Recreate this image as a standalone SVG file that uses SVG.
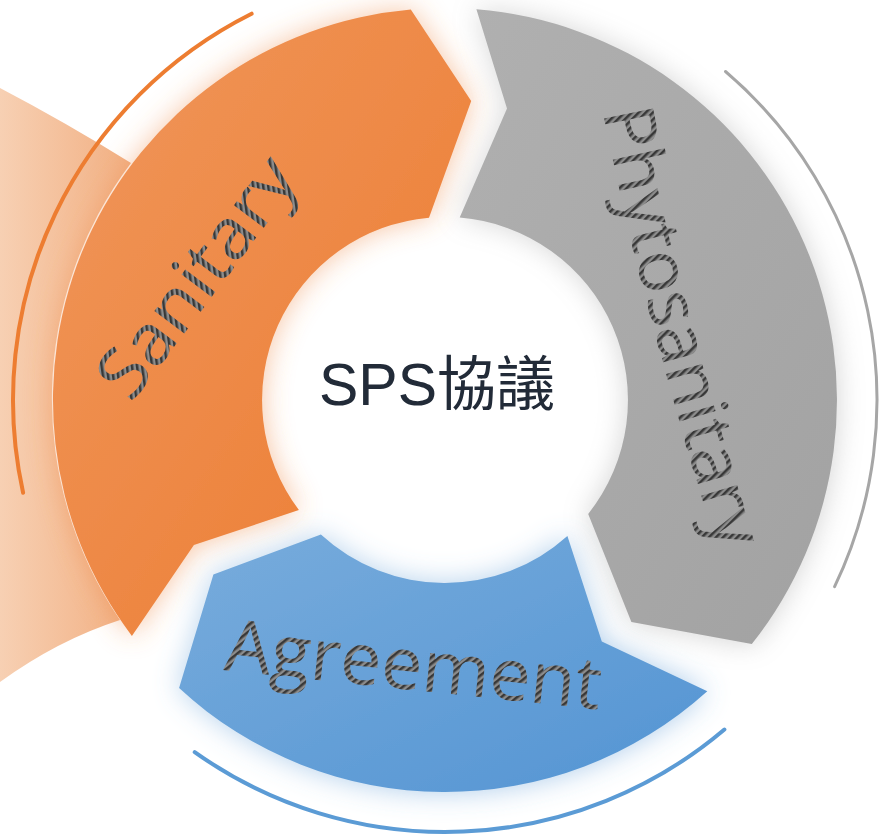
<svg xmlns="http://www.w3.org/2000/svg" width="884" height="836" viewBox="0 0 884 836">
  <defs>
    <linearGradient id="gPeach" x1="0" y1="0" x2="140" y2="0" gradientUnits="userSpaceOnUse">
      <stop offset="0" stop-color="#f7d0b3"/>
      <stop offset="1" stop-color="#f1ad7f"/>
    </linearGradient>
    <linearGradient id="gOrange" x1="0" y1="0" x2="1" y2="1">
      <stop offset="0" stop-color="#f0975c"/>
      <stop offset="1" stop-color="#ec7b30"/>
    </linearGradient>
    <linearGradient id="gGray" x1="0" y1="0" x2="1" y2="1">
      <stop offset="0" stop-color="#b0b0b0"/>
      <stop offset="1" stop-color="#a2a2a2"/>
    </linearGradient>
    <linearGradient id="gBlue" x1="0" y1="0" x2="1" y2="1">
      <stop offset="0" stop-color="#78acdc"/>
      <stop offset="1" stop-color="#5394d3"/>
    </linearGradient>
    <filter id="glow" x="-25%" y="-25%" width="150%" height="150%">
      <feGaussianBlur in="SourceGraphic" stdDeviation="14" result="b"/>
      <feComponentTransfer in="b" result="bs">
        <feFuncA type="linear" slope="0.5"/>
      </feComponentTransfer>
      <feMerge>
        <feMergeNode in="bs"/>
        <feMergeNode in="SourceGraphic"/>
      </feMerge>
    </filter>
    <pattern id="hatch" patternUnits="userSpaceOnUse" width="5" height="5" patternTransform="rotate(45)">
      <rect width="5" height="5" fill="#8c8c8c"/>
      <rect width="2.5" height="5" fill="#383838"/>
    </pattern>
    <path id="phytoPath" d="M603,112 Q640,300 724,570"/>
    <style>
      .lbl { font-family: "Open Sans", "Lato", "Noto Sans", sans-serif; font-weight: 400; fill: url(#hatch); }
      .deco { fill: none; stroke-linecap: round; }
    </style>
  </defs>

  <rect width="884" height="836" fill="#ffffff"/>

  <!-- faded orange band on the left -->
  <path d="M0,88 Q65,122 131,163 A392,392 0 0 0 120,620 Q58,640 0,682 Z" fill="url(#gPeach)"/>

  <!-- decorative outer arcs -->
  <g id="arcs">
    <path class="deco" d="M23.1,492.8 A432,432 0 0 1 251.6,13.7" stroke="#ed7d31" stroke-width="4"/>
    <path class="deco" d="M725.5,71.5 A432,432 0 0 1 834.6,586.7" stroke="#a6a6a6" stroke-width="3"/>
    <path class="deco" d="M724.4,729.5 A432,432 0 0 1 194.7,752.1" stroke="#5b9bd5" stroke-width="4"/>
  </g>

  <g id="sanitary">
    <path filter="url(#glow)" fill="url(#gOrange)" d="M131.9,635.9 A392,392 0 0 1 410.8,9.5 L471.2,101.1 L429.0,217.7 A183,183 0 0 0 298.9,510.1 L193.9,545 Z"/>
    <text class="lbl" font-size="70" transform="translate(131,404) rotate(-53)" x="0" y="0" textLength="282" lengthAdjust="spacingAndGlyphs">Sanitary</text>
  </g>

  <g id="phytosanitary">
    <path filter="url(#glow)" fill="url(#gGray)" d="M476.4,9.3 A392,392 0 0 1 751.8,644.0 L631.4,622.1 L588.2,513.9 A183,183 0 0 0 459.7,217.6 L507,108.5 Z"/>
    <text class="lbl" font-size="70"><textPath href="#phytoPath" textLength="455" lengthAdjust="spacingAndGlyphs">Phytosanitary</textPath></text>
  </g>

  <g id="agreement">
    <path filter="url(#glow)" fill="url(#gBlue)" d="M707.3,691.3 A392,392 0 0 1 179.1,688.1 L213.4,574.5 L320.9,534.5 A183,183 0 0 0 567.4,536.0 L601.8,641.5 Z"/>
    <text class="lbl" font-size="72" transform="translate(223,670) rotate(6)" x="0" y="0" textLength="378" lengthAdjust="spacingAndGlyphs">Agreement</text>
  </g>

  <g id="center">
    <text x="437" y="405" text-anchor="middle" font-family="'Liberation Sans', 'Noto Sans CJK TC', sans-serif" font-size="59" fill="#222b38">SPS協議</text>
  </g>
</svg>
